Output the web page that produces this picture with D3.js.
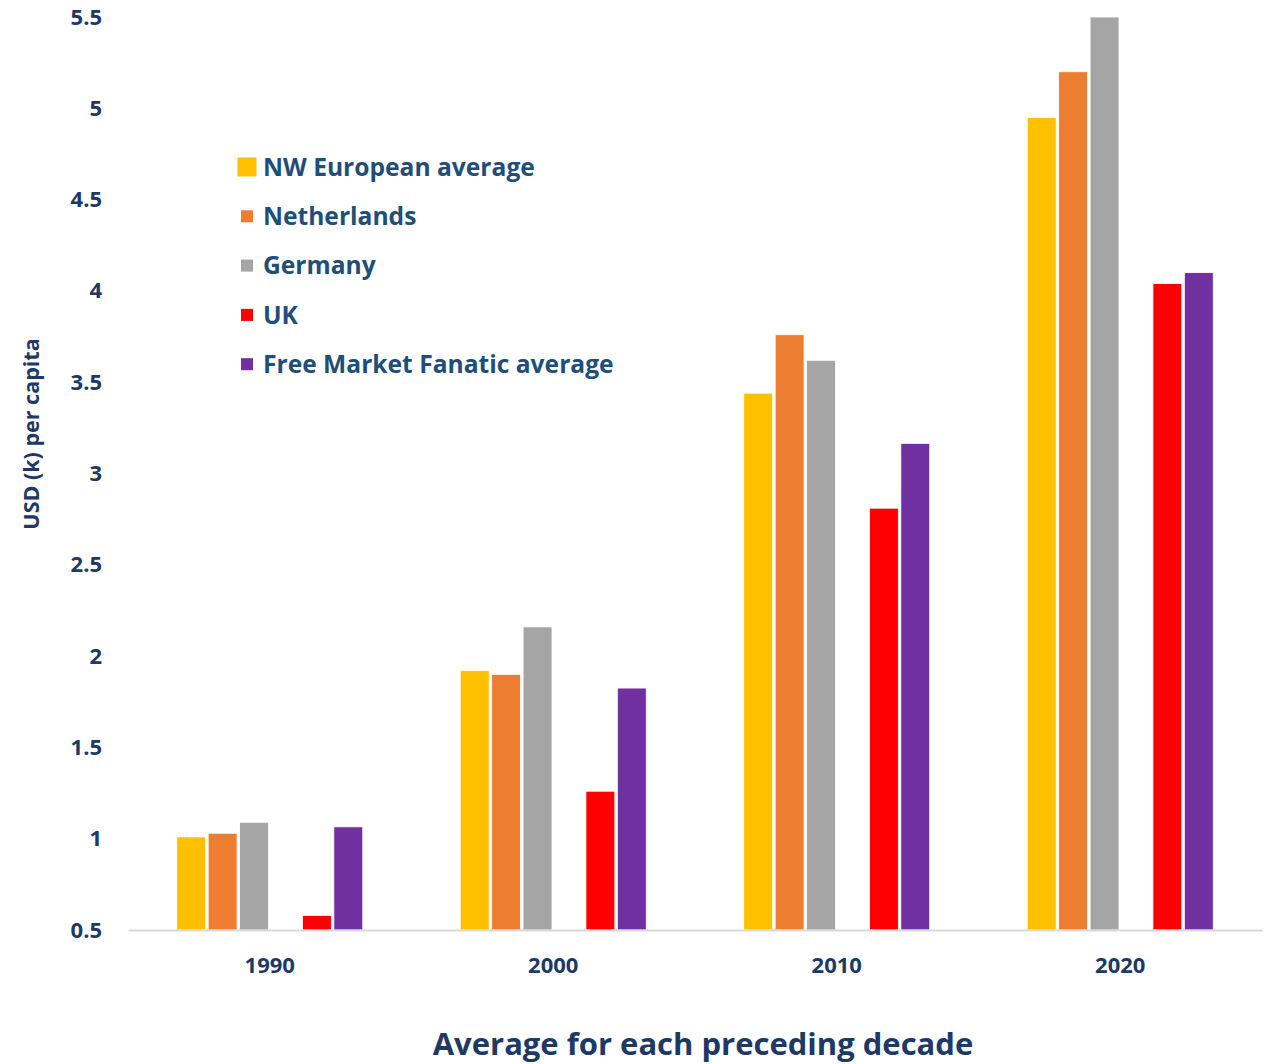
<!DOCTYPE html>
<html><head><meta charset="utf-8">
<script src="https://cdn.jsdelivr.net/npm/d3@7/dist/d3.min.js"></script>
<style>body{margin:0;background:#fff}svg{display:block}</style>
</head><body>
<script>
const decades = ["1990", "2000", "2010", "2020"];
const seriesNames = ["NW European average", "Netherlands", "Germany", "UK", "Free Market Fanatic average"];
const nwEuropean = [1.01, 1.92, 3.44, 4.95];
const netherlands = [1.03, 1.90, 3.76, 5.20];
const germany = [1.09, 2.16, 3.62, 5.50];
const uk = [0.58, 1.26, 2.81, 4.04];
const freeMarket = [1.065, 1.825, 3.165, 4.10];
const yTicks = [0.5, 1, 1.5, 2, 2.5, 3, 3.5, 4, 4.5, 5, 5.5];
const colors = ["#FFC000", "#ED7D31", "#A5A5A5", "#FF0000", "#7030A0"];
const seriesValues = [nwEuropean, netherlands, germany, uk, freeMarket];
// slot layout: an empty slot sits between Germany and UK
const slots = ["NW European average", "Netherlands", "Germany", "_gap", "UK", "Free Market Fanatic average"];

const W = 1273, H = 1064;
const font = "'Open Sans', sans-serif";
const navy = "#203864";
const svg = d3.select("body").append("svg").attr("width", W).attr("height", H);

const x0 = d3.scaleBand().domain(decades).range([128, 1262]).padding(0);
const x1 = d3.scaleBand().domain(slots).range([0, 186]).paddingInner(0.08);
const y = d3.scaleLinear().domain([0.5, 5.5]).range([930, 17]);

// bars
seriesNames.forEach((name, si) => {
  svg.append("g").selectAll("rect").data(decades.map((d, i) => ({d, v: seriesValues[si][i]})))
    .join("rect")
    .attr("x", p => x0(p.d) + x0.bandwidth() / 2 - 93 + x1(name))
    .attr("width", x1.bandwidth())
    .attr("y", p => y(p.v))
    .attr("height", p => y(0.5) - y(p.v))
    .attr("fill", colors[si])
    .attr("stroke", "#fff").attr("stroke-width", 0.8);
});

// x axis
const xAxis = svg.append("g").attr("transform", "translate(0,930)")
  .call(d3.axisBottom(x0).tickSize(0).tickPadding(27));
xAxis.select(".domain").attr("stroke", "#d9d9d9").attr("stroke-width", 2);
xAxis.selectAll("text").attr("font-family", font).attr("font-weight", "bold")
  .attr("font-size", 22).attr("fill", navy);

// y axis
const yAxis = svg.append("g").attr("transform", "translate(128,0)")
  .call(d3.axisLeft(y).tickValues(yTicks).tickSize(0).tickPadding(26).tickFormat(d => String(d)));
yAxis.select(".domain").remove();
yAxis.selectAll("text").attr("font-family", font).attr("font-weight", "bold")
  .attr("font-size", 22).attr("fill", navy);

// axis titles
svg.append("text").attr("transform", "translate(39,434) rotate(-90)")
  .attr("text-anchor", "middle").attr("font-family", font).attr("font-weight", "bold")
  .attr("font-size", 21.5).attr("fill", navy).text("USD (k) per capita");
svg.append("text").attr("x", 703).attr("y", 1055)
  .attr("text-anchor", "middle").attr("font-family", font).attr("font-weight", "bold")
  .attr("font-size", 31).attr("fill", navy).text("Average for each preceding decade");

// legend
const leg = svg.append("g");
seriesNames.forEach((name, i) => {
  const cy = 167 + i * 49.3;
  const s = i === 0 ? 19 : 12;
  leg.append("rect").attr("x", 247 - s / 2).attr("y", cy - s / 2).attr("width", s).attr("height", s)
    .attr("fill", colors[i]);
  leg.append("text").attr("x", 263).attr("y", cy).attr("dy", "0.35em")
    .attr("font-family", font).attr("font-weight", "bold").attr("font-size", 24.6)
    .attr("fill", "#1f4e79").text(name);
});
</script>
</body></html>
